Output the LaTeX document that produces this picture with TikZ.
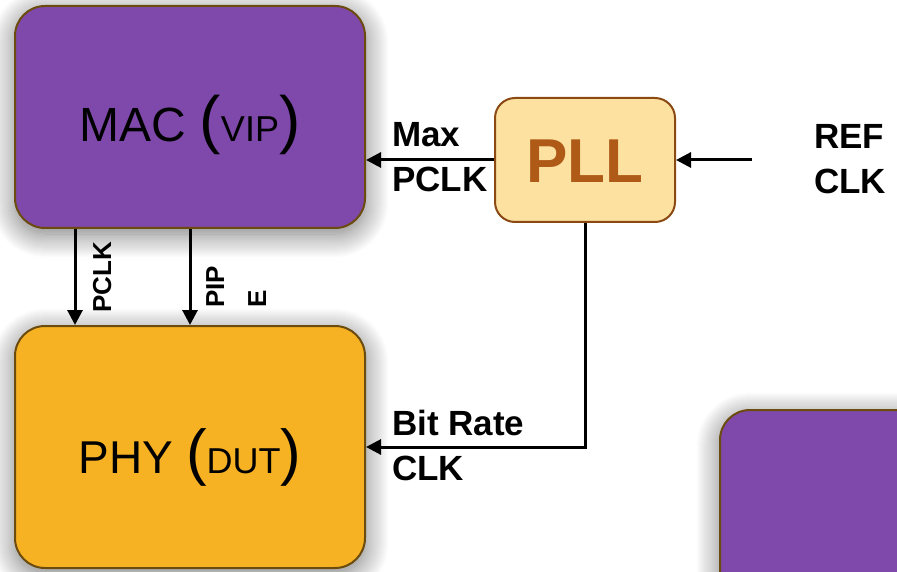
\documentclass[tikz,border=0pt]{standalone}
\usepackage{fontspec}
\setmainfont{Liberation Sans}
\usetikzlibrary{arrows.meta,shadows.blur}

\definecolor{macpurple}{HTML}{7F49AB}
\definecolor{phyorange}{HTML}{F6B222}
\definecolor{boxedge}{HTML}{6C4B0E}
\definecolor{pllfill}{HTML}{FDE1A1}
\definecolor{plledge}{HTML}{8B4A14}
\definecolor{plltext}{HTML}{AF5A17}

\begin{document}
\begin{tikzpicture}[x=1pt,y=-1pt,
  block/.style={draw=boxedge, line width=2pt, rounded corners=30pt, inner sep=0pt,
    blur shadow={shadow xshift=0pt, shadow yshift=-6pt, shadow blur radius=24pt,
      shadow blur steps=24, shadow opacity=55}},
  pllbox/.style={draw=plledge, line width=2pt, rounded corners=20pt, fill=pllfill,
    inner sep=0pt, minimum width=180pt, minimum height=124pt},
  sig/.style={draw=black, line width=3pt,
    -{Triangle[length=15pt,width=15pt]}},
  lbl/.style={inner sep=0pt, align=left, font=\fontsize{35}{45}\selectfont\bfseries},
  vlbl/.style={inner sep=0pt, align=left, rotate=90,
    font=\fontsize{26}{42}\selectfont\bfseries}
]
\useasboundingbox (0,0) rectangle (897,572);
\clip (0,0) rectangle (897,572);

% blocks
\node[block, fill=macpurple, minimum width=350pt, minimum height=222pt,
  text height=50pt, text depth=0pt] (mac) at (190,117)
  {\fontsize{48}{48}\selectfont MAC {\fontsize{64}{64}\selectfont(}{\fontsize{36}{36}\selectfont VIP}{\fontsize{64}{64}\selectfont)}};
\node[block, fill=phyorange, minimum width=350pt, minimum height=242pt,
  text height=52pt, text depth=0pt] (phy) at (190,447)
  {\fontsize{46}{46}\selectfont PHY {\fontsize{62}{62}\selectfont(}{\fontsize{36}{36}\selectfont DUT}{\fontsize{62}{62}\selectfont)}};
\node[block, fill=macpurple, minimum width=350pt, minimum height=222pt] (side) at (895,521) {};
\node[pllbox, text height=46pt, text depth=0pt, text=plltext,
  font=\fontsize{62}{62}\selectfont\bfseries] (pll) at (585,160) {PLL};

% clock and data connectors
\coordinate (refin) at (752,160);
\draw[sig] (refin) -- (pll.east);
\draw[sig] (pll.west) -- (pll.west -| mac.east);
\draw[sig] (pll.south) |- (phy.east);
\draw[sig] ([xshift=-115pt]mac.south) -- ([xshift=-115pt]phy.north);
\draw[sig] (mac.south) -- (phy.north);

% signal labels (anchored at the baseline of the last line)
\node[lbl, anchor=base west] (maxlbl) at (392,192) {Max\\PCLK};
\node[lbl, anchor=base west] (reflbl) at (814,194) {REF\\CLK};
\node[lbl, anchor=base west] (bitlbl) at (392,480) {Bit Rate\\CLK};
\node[vlbl, anchor=base west] (pclklbl) at (111,313) {PCLK};
\node[vlbl, anchor=base west] (pipelbl) at (266,308) {PIP\\E};
\end{tikzpicture}
\end{document}
